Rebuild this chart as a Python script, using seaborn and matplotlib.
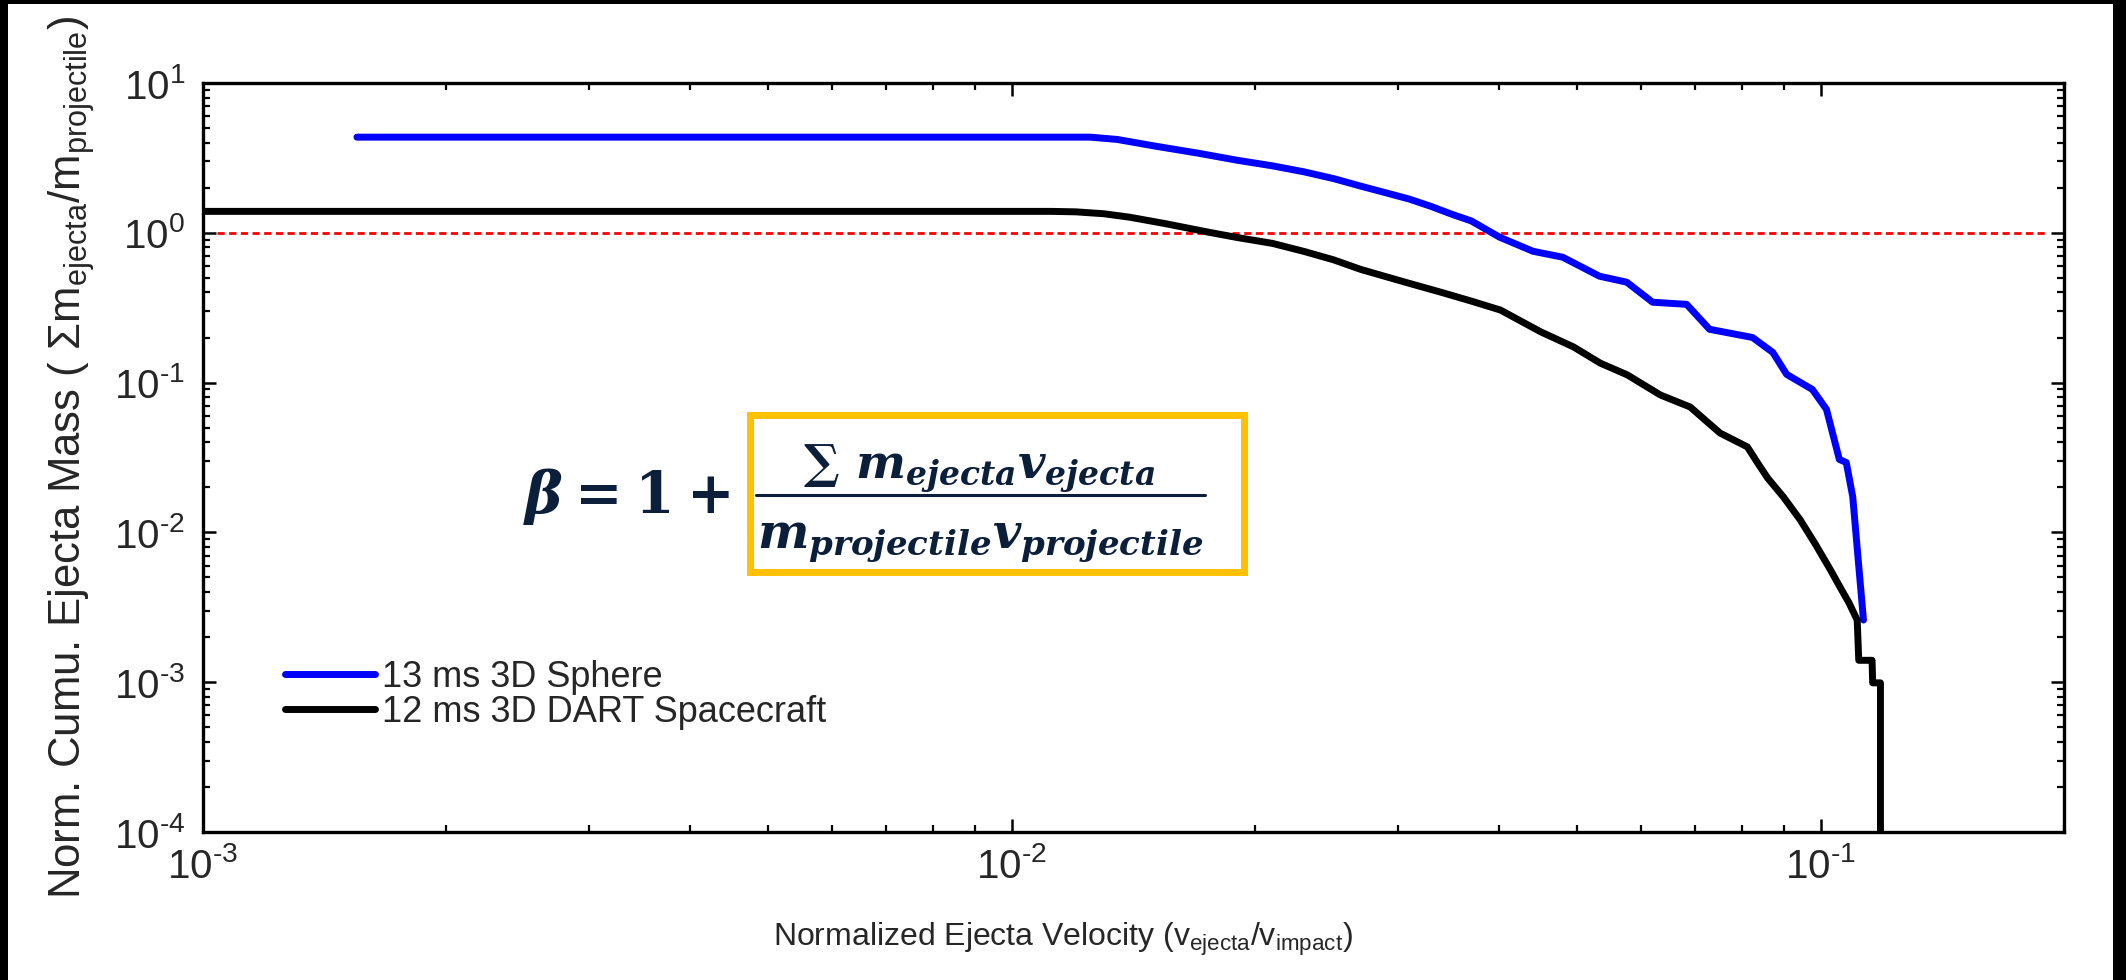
import numpy as np
import pandas as pd
import matplotlib
matplotlib.use("Agg")
import matplotlib.pyplot as plt
from matplotlib.patches import Rectangle
from matplotlib.lines import Line2D
from matplotlib.ticker import NullFormatter, FuncFormatter
import seaborn as sns

# ---------------- data ----------------
series_labels = ["13 ms 3D Sphere", "12 ms 3D DART Spacecraft"]
series_colors = ["#0000FF", "#000000"]

sphere_v = [0.00155, 0.0125, 0.0135, 0.015, 0.017, 0.019, 0.021, 0.023, 0.025,
            0.027, 0.029, 0.031, 0.033, 0.035, 0.037, 0.0401, 0.0441, 0.048,
            0.0533, 0.0576, 0.062, 0.0683, 0.0729, 0.0824, 0.0873, 0.0908,
            0.0977, 0.1017, 0.1055, 0.1076, 0.1096, 0.113]
sphere_m = [4.35, 4.35, 4.2, 3.8, 3.4, 3.05, 2.8, 2.55, 2.3,
            2.05, 1.85, 1.68, 1.5, 1.33, 1.2, 0.935, 0.753, 0.687,
            0.513, 0.468, 0.344, 0.333, 0.227, 0.200, 0.159, 0.1135,
            0.090, 0.0663, 0.0307, 0.0293, 0.0173, 0.0026]

dart_v = [0.001, 0.0112, 0.012, 0.013, 0.014, 0.0155, 0.0175, 0.019, 0.021, 0.023,
          0.025, 0.027, 0.029, 0.031, 0.034, 0.037, 0.0402, 0.0451, 0.0495,
          0.0534, 0.0577, 0.0634, 0.069, 0.0751, 0.0812, 0.0836, 0.0860,
          0.090, 0.0944, 0.0986, 0.1029, 0.106, 0.1084, 0.111, 0.1115,
          0.1158, 0.1160, 0.1186, 0.1186]
dart_m = [1.39, 1.39, 1.38, 1.34, 1.27, 1.15, 1.01, 0.93, 0.85, 0.75,
          0.66, 0.57, 0.51, 0.46, 0.40, 0.35, 0.305, 0.218, 0.173,
          0.135, 0.1125, 0.0826, 0.0687, 0.0461, 0.0372, 0.0291, 0.0231,
          0.0172, 0.0121, 0.0083, 0.0056, 0.0042, 0.0034, 0.0026, 0.0014,
          0.0014, 0.00099, 0.00099, 0.00005]

ref_level = 1.0
x_limits = [1e-3, 0.2]
y_limits = [1e-4, 10]

x_label_main = "Normalized Ejecta Velocity ("
y_label_main = "Norm. Cumu. Ejecta Mass ( "

# ---------------- style ----------------
sns.set_style("ticks")
plt.rcParams["font.family"] = ["Liberation Sans", "DejaVu Sans"]
plt.rcParams["axes.unicode_minus"] = False
plt.rcParams["mathtext.fontset"] = "custom"
plt.rcParams["mathtext.rm"] = "DejaVu Serif:bold"
plt.rcParams["mathtext.it"] = "DejaVu Serif:italic:bold"
plt.rcParams["mathtext.bf"] = "DejaVu Serif:bold"

W, H = 2126, 980
fig = plt.figure(figsize=(W / 100, H / 100), dpi=100)
fig.patch.set_facecolor("white")
ax = fig.add_axes([203 / W, 1 - 832 / H, (2064 - 203) / W, (832 - 83) / H])

df = pd.concat([
    pd.DataFrame({"v": sphere_v, "m": sphere_m, "series": series_labels[0]}),
    pd.DataFrame({"v": dart_v, "m": dart_m, "series": series_labels[1]}),
], ignore_index=True)

sns.lineplot(data=df, x="v", y="m", hue="series", hue_order=series_labels,
             palette=dict(zip(series_labels, series_colors)), sort=False,
             estimator=None, linewidth=5, ax=ax, legend=False,
             solid_capstyle="round", solid_joinstyle="round")

ax.axhline(ref_level, xmin=0.0075, xmax=0.991, color="#FF0000", lw=2.0,
           dashes=(2.6, 1.6), zorder=1)

ax.set_xscale("log")
ax.set_yscale("log")
ax.set_xlim(*x_limits)
ax.set_ylim(*y_limits)


def pow10(val, pos):
    e = int(round(np.log10(val)))
    s = str(e).replace("-", "\u2010")
    return r"$\mathdefault{10^{" + s + "}}$"


ax.xaxis.set_major_formatter(FuncFormatter(pow10))
ax.yaxis.set_major_formatter(FuncFormatter(pow10))
ax.xaxis.set_minor_formatter(NullFormatter())
ax.yaxis.set_minor_formatter(NullFormatter())

for sp in ax.spines.values():
    sp.set_linewidth(2.4)
    sp.set_color("black")
ax.tick_params(which="both", direction="in", top=True, right=True, color="black")
ax.tick_params(which="major", length=9.5, width=1.8, labelsize=29)
ax.tick_params(which="minor", length=5, width=1.6)
ax.tick_params(axis="y", which="major", pad=13)
ax.tick_params(axis="x", which="major", pad=11)

ax.set_xlabel(x_label_main + r"$\mathdefault{v_{ejecta}/v_{impact}}$)", fontsize=23)
ax.xaxis.set_label_coords(0.462, -0.118)
ax.set_ylabel(y_label_main + r"$\mathdefault{Σm_{ejecta}/m_{projectile}}$)", fontsize=31.5)
ax.yaxis.set_label_coords(-0.057, 0.5)

handles = [Line2D([], [], color=c, lw=5, solid_capstyle="round") for c in series_colors]
ax.legend(handles, series_labels, loc="upper left", bbox_to_anchor=(0.044, 0.23),
          frameon=False, fontsize=26, handlelength=2.5, handletextpad=0.18,
          labelspacing=0.0, borderpad=0, borderaxespad=0)

# ---------------- beta equation ----------------
navy = "#0B1F3A"
fig.text(626 / W, 1 - 513 / H, r"$\beta = 1 +$", ha="center", va="baseline",
         fontsize=41, color=navy)
fig.text(979 / W, 1 - 478 / H, r"$\sum\ m_{ejecta}v_{ejecta}$", ha="center",
         va="baseline", fontsize=34, color=navy)
fig.text(980 / W, 1 - 547 / H, r"$m_{projectile}v_{projectile}$", ha="center",
         va="baseline", fontsize=35, color=navy)
fig.add_artist(Line2D([756 / W, 1205 / W], [1 - 495 / H, 1 - 495 / H],
                      transform=fig.transFigure, color=navy, lw=2.2))
fig.add_artist(Rectangle((750 / W, 1 - 572 / H), (1244 - 750) / W, (572 - 415) / H,
                         transform=fig.transFigure, fill=False,
                         edgecolor="#FFC000", lw=5))

# ---------------- black frame ----------------
fig.add_artist(Rectangle((0, 0), 8 / W, 1, transform=fig.transFigure, color="black", lw=0))
fig.add_artist(Rectangle((0, 1 - 4 / H), 1, 4 / H, transform=fig.transFigure, color="black", lw=0))
fig.add_artist(Rectangle((1 - 13 / W, 0), 13 / W, 1, transform=fig.transFigure, color="black", lw=0))

fig.savefig("out.png", dpi=100, facecolor="white")
